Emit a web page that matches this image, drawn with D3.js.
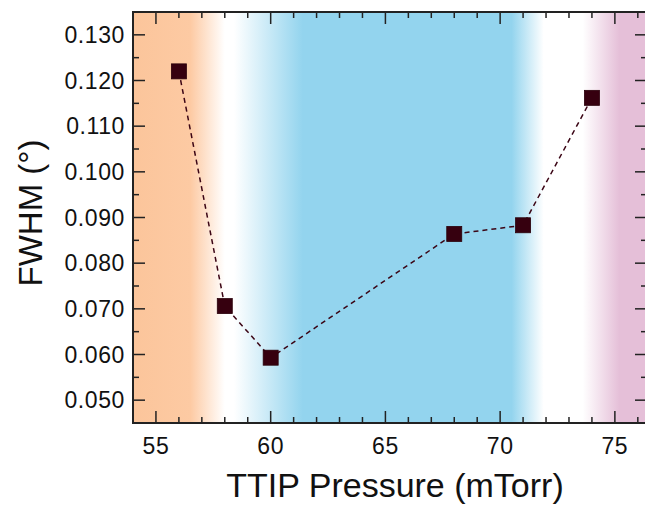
<!DOCTYPE html>
<html>
<head>
<meta charset="utf-8">
<script src="https://cdn.jsdelivr.net/npm/d3@7"></script>
<style>
  body { margin: 0; background: #fff; }
  svg { display: block; font-family: "Liberation Sans", Arial, sans-serif; }
</style>
</head>
<body>
<div id="chart"></div>
<script>
// measured points: TTIP pressure (mTorr) vs FWHM (deg)
const pressure = [56, 58, 60, 68, 71, 74];
const fwhm = [0.1220, 0.0706, 0.0593, 0.0864, 0.0883, 0.1162];

const xTicks = [55, 60, 65, 70, 75];
const yTicks = [0.05, 0.06, 0.07, 0.08, 0.09, 0.10, 0.11, 0.12, 0.13];

// background shading regions (pressure, colour)
const bandPressure = [54, 56.5, 58.0, 58.4, 61.4, 70.5, 71.9, 73.6, 75.2, 76.4];
const bandColour = ["#fbc59b", "#fdcaa3", "#ffffff", "#ffffff", "#93d4ee",
                    "#93d4ee", "#ffffff", "#ffffff", "#e5bfd8", "#e5bfd8"];

const width = 645;
const height = 507;
const margin = { left: 133, top: 12, right: -2, bottom: 84 };
const plotW = width - margin.left - margin.right;
const plotH = height - margin.top - margin.bottom;

const x = d3.scaleLinear().domain([54, 76.4]).range([0, plotW]);
const y = d3.scaleLinear().domain([0.045, 0.135]).range([plotH, 0]);

const svg = d3.select("#chart")
    .append("svg")
    .attr("width", width)
    .attr("height", height);

const defs = svg.append("defs");
const grad = defs.append("linearGradient")
    .attr("id", "bands")
    .attr("gradientUnits", "userSpaceOnUse")
    .attr("x1", 0).attr("x2", plotW)
    .attr("y1", 0).attr("y2", 0);

grad.selectAll("stop")
    .data(bandPressure)
    .enter().append("stop")
    .attr("offset", (d) => x(d) / plotW)
    .attr("stop-color", (d, i) => bandColour[i]);

const g = svg.append("g")
    .attr("transform", `translate(${margin.left},${margin.top})`);

g.append("rect")
    .attr("width", plotW)
    .attr("height", plotH)
    .attr("fill", "url(#bands)");

// ticks, all pointing inward
const xMinor = d3.range(54, 77, 1);
const yMinor = d3.range(0.045, 0.1351, 0.005);
const tickCol = "#222";

function isMajorX(v) { return Math.abs(v % 5) < 1e-6; }
function isMajorY(v) { return yTicks.some((t) => Math.abs(t - v) < 1e-6); }

xMinor.forEach((v) => {
    const len = isMajorX(v) ? 12 : 6;
    g.append("line").attr("x1", x(v)).attr("x2", x(v))
        .attr("y1", plotH).attr("y2", plotH - len)
        .attr("stroke", tickCol).attr("stroke-width", 1.5);
    g.append("line").attr("x1", x(v)).attr("x2", x(v))
        .attr("y1", 0).attr("y2", len)
        .attr("stroke", tickCol).attr("stroke-width", 1.5);
});

yMinor.forEach((v) => {
    const len = isMajorY(v) ? 12 : 6;
    g.append("line").attr("x1", 0).attr("x2", len)
        .attr("y1", y(v)).attr("y2", y(v))
        .attr("stroke", tickCol).attr("stroke-width", 1.5);
    g.append("line").attr("x1", plotW).attr("x2", plotW - len)
        .attr("y1", y(v)).attr("y2", y(v))
        .attr("stroke", tickCol).attr("stroke-width", 1.5);
});

// frame
g.append("rect")
    .attr("width", plotW)
    .attr("height", plotH)
    .attr("fill", "none")
    .attr("stroke", tickCol)
    .attr("stroke-width", 2);

// tick labels
g.selectAll(".xl")
    .data(xTicks)
    .enter().append("text")
    .attr("x", (d) => x(d))
    .attr("y", plotH + 31)
    .attr("text-anchor", "middle")
    .attr("fill", "#111")
    .style("font-size", "23px")
    .style("letter-spacing", "0.6px")
    .text((d) => d);

g.selectAll(".yl")
    .data(yTicks)
    .enter().append("text")
    .attr("x", -8)
    .attr("y", (d) => y(d))
    .attr("dy", "0.36em")
    .attr("text-anchor", "end")
    .attr("fill", "#111")
    .style("font-size", "23px")
    .style("letter-spacing", "0.6px")
    .text((d) => d3.format(".3f")(d));

// axis titles
svg.append("text")
    .attr("x", 395)
    .attr("y", 497)
    .attr("text-anchor", "middle")
    .attr("fill", "#111")
    .style("font-size", "34px")
    .text("TTIP Pressure (mTorr)");

svg.append("text")
    .attr("transform", `translate(42,213) rotate(-90)`)
    .attr("text-anchor", "middle")
    .attr("fill", "#111")
    .style("font-size", "33px")
    .text("FWHM (°)");

// data
const pts = pressure.map((p, i) => ({ p, v: fwhm[i] }));

const line = d3.line()
    .x((d) => x(d.p))
    .y((d) => y(d.v));

g.append("path")
    .datum(pts)
    .attr("d", line)
    .attr("fill", "none")
    .attr("stroke", "#3b0515")
    .attr("stroke-width", 1.5)
    .attr("stroke-dasharray", "5,4");

const size = 15;
g.selectAll(".pt")
    .data(pts)
    .enter().append("rect")
    .attr("x", (d) => x(d.p) - size / 2)
    .attr("y", (d) => y(d.v) - size / 2)
    .attr("width", size)
    .attr("height", size)
    .attr("fill", "#36000f")
    .attr("stroke", "#2a000a")
    .attr("stroke-width", 0.8);
</script>
</body>
</html>
